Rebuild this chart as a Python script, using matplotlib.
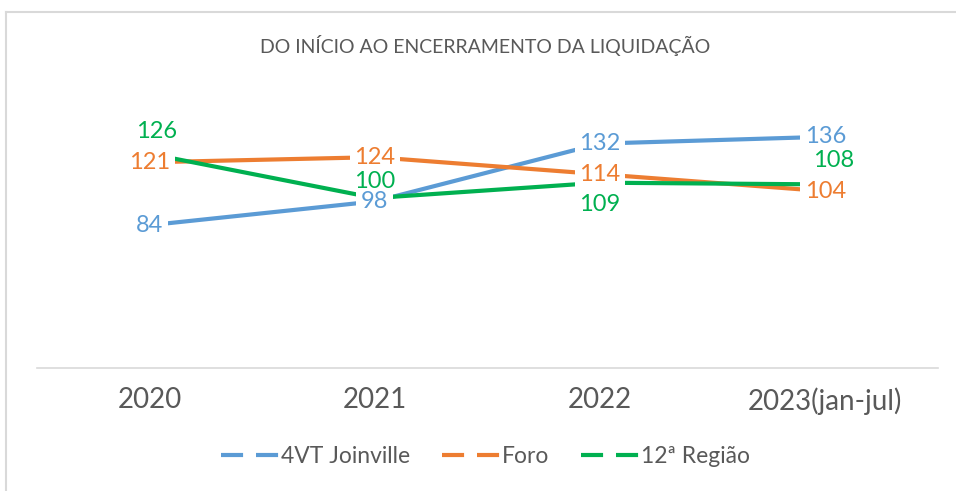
import matplotlib
matplotlib.use("Agg")
import matplotlib.pyplot as plt
from matplotlib.lines import Line2D

# -----------------------------
# Dados
# -----------------------------
anos = ["2020", "2021", "2022", "2023(jan-jul)"]
joinville = [84, 98, 132, 136]
foro = [121, 124, 114, 104]
regiao = [126, 100, 109, 108]

series_nomes = ["4VT Joinville", "Foro", "12ª Região"]
cores = ["#5B9BD5", "#ED7D31", "#00B050"]

# deslocamento dos rótulos (pontos) por série / ano
offsets = [
    [(0, 0), (0, 0), (0, 0), (0, 0)],
    [(0, 0), (0, 0), (0, 0), (0, 0)],
    [(5, 16), (0, 12), (0, -16), (6, 17)],
]

TITULO = "DO INÍCIO AO ENCERRAMENTO DA LIQUIDAÇÃO"


def main():
    plt.rcParams["font.family"] = ["Lato", "DejaVu Sans"]

    fig = plt.figure(figsize=(9.56, 4.91), dpi=100)
    ax = fig.add_axes([0.0387, 0.2505, 0.9423, 0.554])

    x = list(range(len(anos)))
    dados = [joinville, foro, regiao]

    for serie, cor in zip(dados, cores):
        ax.plot(x, serie, color=cor, lw=3, solid_capstyle="butt", zorder=2)

    for serie, cor, offs in zip(dados, cores, offsets):
        for xi, v, off in zip(x, serie, offs):
            # rótulos em cima do ponto levam fundo branco (cortam a linha)
            caixa = None
            if off == (0, 0):
                caixa = dict(boxstyle="square,pad=0.2", fc="white", ec="none")
            ax.annotate(str(v), (xi, v), xytext=off, textcoords="offset points",
                        ha="center", va="center", fontsize=17, color=cor, zorder=5,
                        bbox=caixa)

    ax.set_xlim(-0.5, len(anos) - 0.5)
    ax.set_ylim(0, 160)
    ax.set_xticks(x)
    ax.set_xticklabels(anos, fontsize=20, color="#595959")
    ax.tick_params(axis="x", length=0, pad=14)
    ax.set_yticks([])
    for lado in ["top", "right", "left"]:
        ax.spines[lado].set_visible(False)
    ax.spines["bottom"].set_color("#D9D9D9")
    ax.spines["bottom"].set_linewidth(1.2)

    fig.text(0.507, 0.908, TITULO, ha="center", va="center", fontsize=14, color="#595959")

    # legenda com traços
    handles = [Line2D([0], [0], color=c, lw=3, linestyle=(0, (5.3, 3.1))) for c in cores]
    fig.legend(handles, series_nomes, loc="center", bbox_to_anchor=(0.508, 0.07), ncol=3,
               frameon=False, fontsize=16.5, labelcolor="#595959", handlelength=2.5,
               handletextpad=0.1, columnspacing=1.4)

    # borda do gráfico (só topo e esquerda aparecem)
    borda = "#D9D9D9"
    fig.add_artist(Line2D([6 / 956, 1], [1 - 12 / 491] * 2, color=borda, lw=1.5, transform=fig.transFigure))
    fig.add_artist(Line2D([6 / 956] * 2, [0, 1 - 12 / 491], color=borda, lw=1.5, transform=fig.transFigure))

    fig.savefig("out.png", dpi=100)
    plt.close(fig)


if __name__ == "__main__":
    main()
